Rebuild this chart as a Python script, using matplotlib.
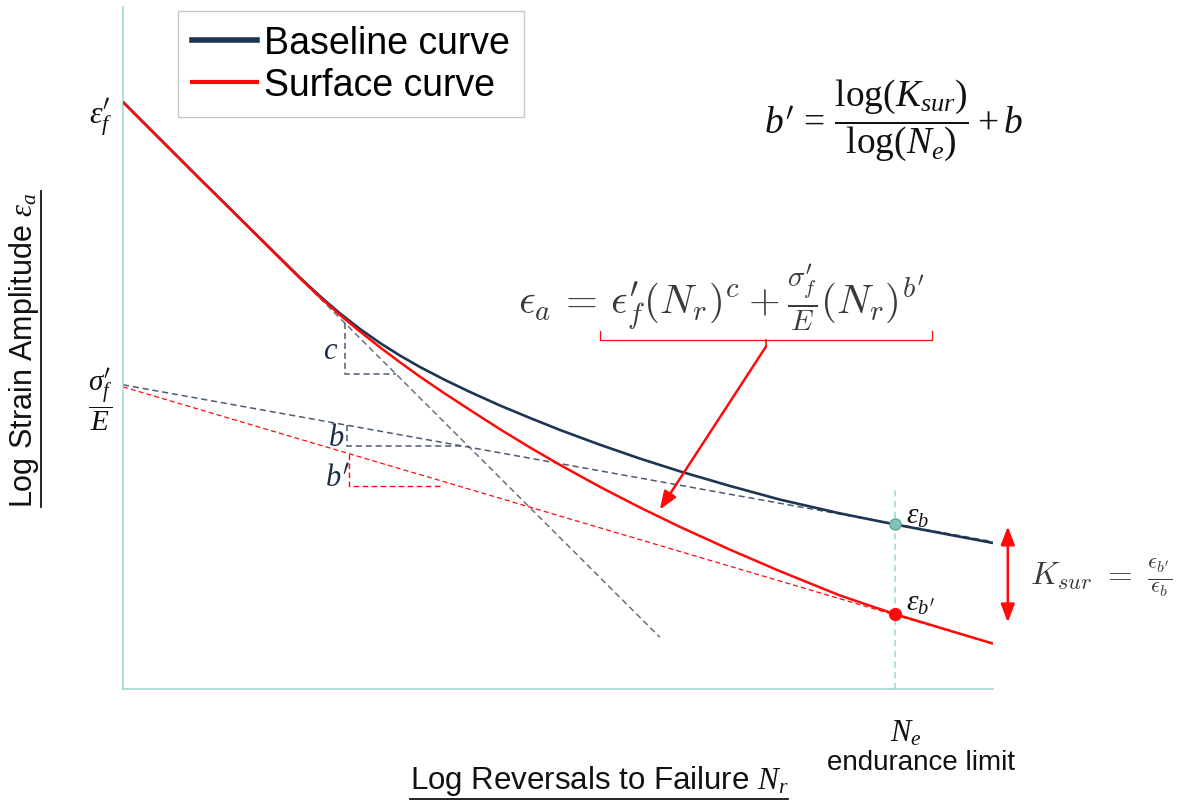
import matplotlib
matplotlib.use('Agg')
import matplotlib.pyplot as plt
from matplotlib.lines import Line2D

plt.rcParams['mathtext.rm'] = 'Liberation Serif'
plt.rcParams['mathtext.it'] = 'Liberation Serif:italic'
plt.rcParams['mathtext.bf'] = 'Liberation Serif:bold'
plt.rcParams['mathtext.sf'] = 'cmr10'
plt.rcParams['mathtext.fallback'] = 'cm'

W, H = 1178, 803

# ---- data (arbitrary log units: x = log reversals, y = log strain amplitude) ----
log_N_base = [0.000, 0.885, 1.805, 2.034, 2.264, 2.494, 2.724, 2.954, 3.184, 3.414, 3.701, 3.989,
              4.333, 4.678, 5.023, 5.483, 5.943, 6.402, 6.977, 7.552, 8.241, 8.874, 10.000]
log_eps_base = [8.607, 7.478, 6.320, 6.032, 5.760, 5.507, 5.279, 5.073, 4.889, 4.721, 4.531, 4.355,
                4.157, 3.974, 3.798, 3.581, 3.378, 3.191, 2.977, 2.777, 2.575, 2.413, 2.141]

log_N_surf = [0.000, 0.885, 1.805, 2.034, 2.264, 2.494, 2.724, 2.954, 3.184, 3.414, 3.701, 3.989,
              4.333, 4.678, 5.023, 5.483, 5.943, 6.402, 6.977, 7.552, 8.241, 8.874, 10.000]
log_eps_surf = [8.607, 7.478, 6.312, 6.023, 5.745, 5.484, 5.241, 5.010, 4.790, 4.579, 4.330, 4.091,
                3.809, 3.541, 3.286, 2.963, 2.661, 2.377, 2.043, 1.727, 1.371, 1.097, 0.666]

c_line_x = [0.00, 6.17]
c_line_y = [8.61, 0.76]
b_line_x = [0.00, 10.00]
b_line_y = [4.46, 2.16]
bp_line_x = [0.00, 10.00]
bp_line_y = [4.43, 0.66]

c_tri_x = [2.55, 2.55, 3.14]
c_tri_y = [5.37, 4.62, 4.62]
b_tri_x = [2.57, 2.57, 3.91]
b_tri_y = [3.87, 3.56, 3.56]
bp_tri_x = [2.60, 2.60, 3.67]
bp_tri_y = [3.45, 2.98, 2.98]

N_e = 8.874
eps_b = 2.413
eps_bp = 1.097

legend_labels = ['Baseline curve', 'Surface curve']

# ---- colours ----
NAVY = '#1d3553'
RED = '#ff0a0a'
AXIS = '#9ad6d1'
GRAY = '#6a7080'
GRAYB = '#4d5b74'
LBL = '#1f2d4a'

P = r'{\mathsf{\prime}}'


def fx(px):
    return px / W


def fy(py):
    return 1 - py / H


fig = plt.figure(figsize=(W / 100, H / 100), dpi=100)
ax = fig.add_axes([fx(123), fy(690), 870 / W, 682 / H])
ax.set_xlim(0, 10)
ax.set_ylim(0, 10)
for s in ['top', 'right']:
    ax.spines[s].set_visible(False)
for s in ['left', 'bottom']:
    ax.spines[s].set_color(AXIS)
    ax.spines[s].set_linewidth(1.1)
ax.set_xticks([])
ax.set_yticks([])

# dashed construction lines
dash = (0, (4, 2.5))
ax.plot(c_line_x, c_line_y, color=GRAY, lw=1.1, ls=dash, zorder=2)
ax.plot(b_line_x, b_line_y, color=GRAYB, lw=1.1, ls=dash, zorder=2)
ax.plot(bp_line_x, bp_line_y, color=RED, lw=0.9, ls=dash, zorder=2)
ax.plot(c_tri_x, c_tri_y, color=GRAYB, lw=1.1, ls=dash, zorder=2)
ax.plot(b_tri_x, b_tri_y, color=GRAYB, lw=1.1, ls=dash, zorder=2)
ax.plot(bp_tri_x, bp_tri_y, color=RED, lw=1.0, ls=dash, zorder=2)

# endurance limit marker line
ax.plot([N_e, N_e], [0, eps_b + 0.52], color=AXIS, lw=1.1, ls=(0, (4, 3)), zorder=1, clip_on=False)

# curves
ax.plot(log_N_base, log_eps_base, color=NAVY, lw=1.9, zorder=3, solid_capstyle='butt', solid_joinstyle='round')
ax.plot(log_N_surf, log_eps_surf, color=RED, lw=1.8, zorder=4, solid_capstyle='butt', solid_joinstyle='round')

# points
ax.plot([N_e], [eps_b], 'o', ms=8, mfc='#7fc3b9', mec='#5fa89e', mew=1, zorder=5)
ax.plot([N_e], [eps_bp], 'o', ms=8.5, mfc=RED, mec=RED, zorder=5)

# brace under formula and arrow
ax.plot([5.48, 5.48, 9.30, 9.30], [5.25, 5.12, 5.12, 5.25], color=RED, lw=0.9, zorder=3)
ax.plot([7.39, 7.39], [5.12, 5.02], color=RED, lw=1.2, zorder=3)
ax.annotate('', xy=(6.17, 2.63), xytext=(7.39, 5.02),
            arrowprops=dict(arrowstyle='-|>,head_length=1.1,head_width=0.42', color=RED, lw=1.8,
                            shrinkA=0, shrinkB=0), zorder=4)

# double arrow for K_sur
ax.annotate('', xy=(10.17, eps_bp - 0.12), xytext=(10.17, eps_b - 0.03),
            arrowprops=dict(arrowstyle='<|-|>,head_length=1.1,head_width=0.42', color=RED, lw=1.8,
                            shrinkA=0, shrinkB=0), annotation_clip=False, zorder=4)

# legend
handles = [Line2D([0], [0], color=NAVY, lw=4.0), Line2D([0], [0], color=RED, lw=3.0)]
leg = fig.legend(handles, legend_labels, loc='upper left', bbox_to_anchor=(fx(178), fy(12)),
                 bbox_transform=fig.transFigure, borderaxespad=0, fancybox=False,
                 edgecolor='#c8c8c8', framealpha=1, prop={'family': 'Liberation Sans', 'size': 27},
                 handlelength=1.72, handletextpad=0.2, labelspacing=0.15, borderpad=0.38)
leg.get_frame().set_linewidth(1.0)

M = 'custom'
# tick-like labels
fig.text(fx(101), fy(117), r"$\varepsilon_f^" + P + "$", fontsize=23, math_fontfamily=M,
         ha='center', va='center', color='#111111')
fig.text(fx(100), fy(400), r"$\dfrac{\sigma_f^" + P + r"}{E}$", fontsize=21, math_fontfamily=M,
         ha='center', va='center', color='#111111')

# triangle labels
fig.text(fx(331), fy(351), r'$c$', fontsize=22, math_fontfamily=M, ha='center', va='center', color=LBL)
fig.text(fx(336), fy(438), r'$b$', fontsize=22, math_fontfamily=M, ha='center', va='center', color=LBL)
fig.text(fx(338), fy(478), r"$b^" + P + "$", fontsize=22, math_fontfamily=M, ha='center', va='center', color=LBL)

# formulas
fig.text(fx(722), fy(298), r'$\epsilon_a\,=\,\epsilon_f^{\prime}(N_r)^c+\frac{\sigma_f^{\prime}}{E}(N_r)^{b^{\prime}}$',
         fontsize=29.5, math_fontfamily='cm', ha='center', va='center', color='#3a3a3a')
fig.text(fx(894), fy(120), r"$b^" + P + r"\,=\,\dfrac{\log(K_{sur})}{\log(N_e)}+b$",
         fontsize=27, math_fontfamily=M, ha='center', va='center', color='#111111')
fig.text(fx(1030), fy(578), r'$K_{sur}\ =\ \frac{\epsilon_{b^{\prime}}}{\epsilon_b}$',
         fontsize=23, math_fontfamily='cm', ha='left', va='center', color='#3a3a3a')

# point labels
fig.text(fx(906), fy(516), r'$\epsilon_b$', fontsize=21, math_fontfamily=M, ha='left', va='center', color='#111111')
fig.text(fx(906), fy(603), r"$\epsilon_{b^" + P + "}$", fontsize=21, math_fontfamily=M, ha='left', va='center', color='#111111')

# N_e label
fig.text(fx(906), fy(733), r'$N_e$', fontsize=22, math_fontfamily=M, ha='center', va='center', color='#111111')
fig.text(fx(921), fy(763), 'endurance limit', fontsize=20, family='Liberation Sans', ha='center', va='center', color='#111111')

# axis labels (underlined)
xl = fig.text(fx(599), fy(781), r'Log Reversals to Failure $N_r$', fontsize=22.5, family='Liberation Sans',
              math_fontfamily=M, ha='center', va='center', color='#111111')
yl = fig.text(fx(24), fy(350), r'Log Strain Amplitude $\varepsilon_a$', fontsize=22, family='Liberation Sans',
              math_fontfamily=M, ha='center', va='center', rotation=90, color='#111111')

fig.canvas.draw()
r = fig.canvas.get_renderer()
bx = xl.get_window_extent(r)
by = yl.get_window_extent(r)
uy = fy(800)
fig.add_artist(Line2D([bx.x0 / W, bx.x1 / W], [uy, uy], color='#111111', lw=1.3, transform=fig.transFigure))
ux = fx(41)
fig.add_artist(Line2D([ux, ux], [by.y0 / H, by.y1 / H], color='#111111', lw=1.3, transform=fig.transFigure))

fig.savefig('out.png', dpi=100)
